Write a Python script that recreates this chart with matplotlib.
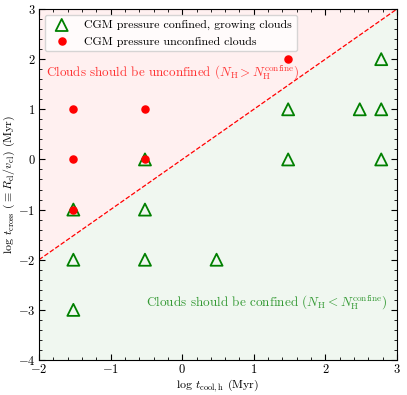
import numpy as np
import matplotlib
matplotlib.use("Agg")
import matplotlib.pyplot as plt
from matplotlib.ticker import MultipleLocator

plt.rcParams['font.family'] = 'serif'
plt.rcParams['font.serif'] = ['cmr10', 'DejaVu Serif']
plt.rcParams['mathtext.fontset'] = 'cm'
plt.rcParams['axes.formatter.use_mathtext'] = True
plt.rcParams['axes.unicode_minus'] = True

# Data
tri_x = [-1.52, -1.52, -1.52, -0.52, -0.52, -0.52, 0.48, 1.48, 1.48, 2.48, 2.78, 2.78, 2.78]
tri_y = [-1, -2, -3, 0, -1, -2, -2, 1, 0, 1, 2, 1, 0]
dot_x = [-1.52, -1.52, -1.52, -0.52, -0.52, 1.48]
dot_y = [1, 0, -1, 1, 0, 2]
xlim = [-2, 3]
ylim = [-4, 3]

fig = plt.figure(figsize=(4.07, 3.95), dpi=100)
ax = fig.add_axes([0.0958, 0.0886, 0.8796, 0.8886])

xx = np.array(xlim, dtype=float)
ax.fill_between(xx, xx, ylim[1], color='red', alpha=0.06, lw=0)
ax.fill_between(xx, ylim[0], xx, color='green', alpha=0.06, lw=0)
ax.plot(xx, xx, color='red', ls='--', lw=0.9)

ax.scatter(tri_x, tri_y, marker='^', s=75, facecolors='none', edgecolors='green',
           linewidths=1.3, label='CGM pressure confined, growing clouds', zorder=3)
ax.scatter(dot_x, dot_y, marker='o', s=26, color='red',
           label='CGM pressure unconfined clouds', zorder=4)

ax.text(-1.90, 1.72, r'Clouds should be unconfined ($N_{\rm H} > N_{\rm H}^{\rm confine}$)',
        color='#ff3333', fontsize=9.4, va='center', ha='left')
ax.text(2.86, -2.86, r'Clouds should be confined ($N_{\rm H} < N_{\rm H}^{\rm confine}$)',
        color='#339933', fontsize=9.5, va='center', ha='right')

ax.set_xlim(xlim)
ax.set_ylim(ylim)
ax.xaxis.set_major_locator(MultipleLocator(1))
ax.yaxis.set_major_locator(MultipleLocator(1))
ax.xaxis.set_minor_locator(MultipleLocator(0.2))
ax.yaxis.set_minor_locator(MultipleLocator(0.2))
ax.tick_params(which='both', direction='in', top=True, right=True, labelsize=9, pad=2.5)
ax.tick_params(which='major', length=4)
ax.tick_params(which='minor', length=2)

ax.set_xlabel(r'log $t_{\rm cool,h}$ (Myr)', fontsize=8.6, labelpad=1)
ax.set_ylabel(r'log $t_{\rm cross}$ ($\equiv R_{\rm cl}/v_{\rm cl}$) (Myr)', fontsize=8.6, labelpad=1)

ax.legend(loc='upper left', fontsize=8.6, frameon=True, framealpha=0.8,
          borderpad=0.4, handletextpad=0.9)

fig.savefig('out.png', dpi=100)
